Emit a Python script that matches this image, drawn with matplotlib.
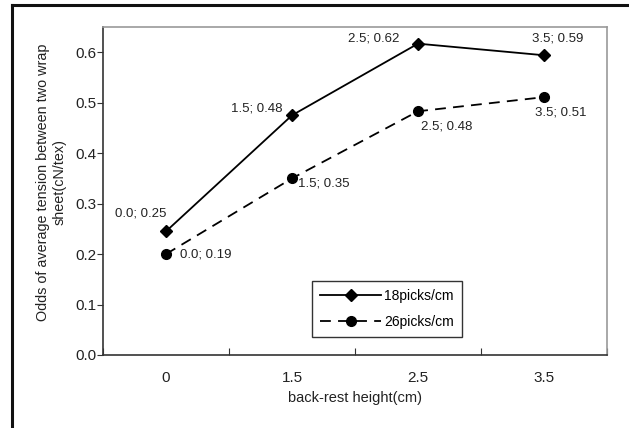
import matplotlib
matplotlib.use("Agg")
import matplotlib.pyplot as plt
from matplotlib.lines import Line2D

categories = ["0", "1.5", "2.5", "3.5"]
picks18 = [0.245, 0.475, 0.617, 0.594]
picks26 = [0.200, 0.350, 0.483, 0.511]
labels18 = ["0.0; 0.25", "1.5; 0.48", "2.5; 0.62", "3.5; 0.59"]
labels26 = ["0.0; 0.19", "1.5; 0.35", "2.5; 0.48", "3.5; 0.51"]
yticks = [0.0, 0.1, 0.2, 0.3, 0.4, 0.5, 0.6]

plt.rcParams['font.family'] = ['Liberation Sans', 'DejaVu Sans']

fig = plt.figure(figsize=(6.29, 4.28), dpi=100)
ax = fig.add_axes([103/629, 1-355/428, (607-103)/629, (355-27)/428])

x = list(range(len(categories)))
ax.plot(x, picks18, color='black', lw=1.3, marker='D', ms=6, label='18picks/cm')
ax.plot(x, picks26, color='black', lw=1.3, ls=(0, (6, 4)), marker='o', ms=7, label='26picks/cm')

lab_fs = 9.5
off18 = [(0, 8.5, 'right', 'bottom'), (-7, 5, 'right', 'center'), (-13.5, 3.5, 'right', 'center'), (-8.6, 12, 'left', 'center')]
for xi, yi, t, (dx, dy, ha, va) in zip(x, picks18, labels18, off18):
    ax.annotate(t, (xi, yi), xytext=(dx, dy), textcoords='offset points', ha=ha, va=va, fontsize=lab_fs, color='#222222')
off26 = [(10, 0, 'left', 'center'), (4.3, -3.6, 'left', 'center'), (2, -10.8, 'left', 'center'), (-6.5, -10.8, 'left', 'center')]
for xi, yi, t, (dx, dy, ha, va) in zip(x, picks26, labels26, off26):
    ax.annotate(t, (xi, yi), xytext=(dx, dy), textcoords='offset points', ha=ha, va=va, fontsize=lab_fs, color='#222222')

ax.set_xlim(-0.5, 3.5)
ax.set_ylim(0, 0.65)
ax.set_yticks(yticks)
ax.set_yticklabels([f"{v:.1f}" for v in yticks], fontsize=11, color='#222222')
ax.set_xticks([-0.5, 0.5, 1.5, 2.5, 3.5])
ax.set_xticklabels([])
ax.set_xticks(x, minor=True)
ax.set_xticklabels(categories, minor=True, fontsize=11, color='#222222')
ax.tick_params(axis='x', which='minor', length=0, pad=11.5)
ax.tick_params(axis='x', which='major', length=5, direction='in', color='#333333')
ax.tick_params(axis='y', length=4, direction='out', color='#333333', pad=1)

for s in ['top', 'right']:
    ax.spines[s].set_color('#999999')
    ax.spines[s].set_linewidth(1.2)
for s in ['left', 'bottom']:
    ax.spines[s].set_color('#333333')
    ax.spines[s].set_linewidth(1.2)

ax.set_xlabel('back-rest height(cm)', fontsize=10.5, color='#222222')
ax.xaxis.set_label_coords(0.5, -0.11)
ax.set_ylabel('Odds of average tension between two wrap\nsheet(cN/tex)', fontsize=10.4, linespacing=1.2, color='#222222')
ax.yaxis.set_label_coords(-0.073, 0.527)

leg = ax.legend(loc='upper left', bbox_to_anchor=((312-103)/504, (355-281)/328), fontsize=10,
                frameon=True, fancybox=False, edgecolor='black', handlelength=4.4, borderpad=0.6,
                labelspacing=0.85, handletextpad=0.2, borderaxespad=0)
leg.get_frame().set_linewidth(1.0)

fig.add_artist(Line2D([12/629, 12/629], [0, 1-5/428], color='#111111', lw=2.2, transform=fig.transFigure))
fig.add_artist(Line2D([12/629, 1], [1-5/428, 1-5/428], color='#111111', lw=2.2, transform=fig.transFigure))

fig.savefig('out.png', dpi=100)
